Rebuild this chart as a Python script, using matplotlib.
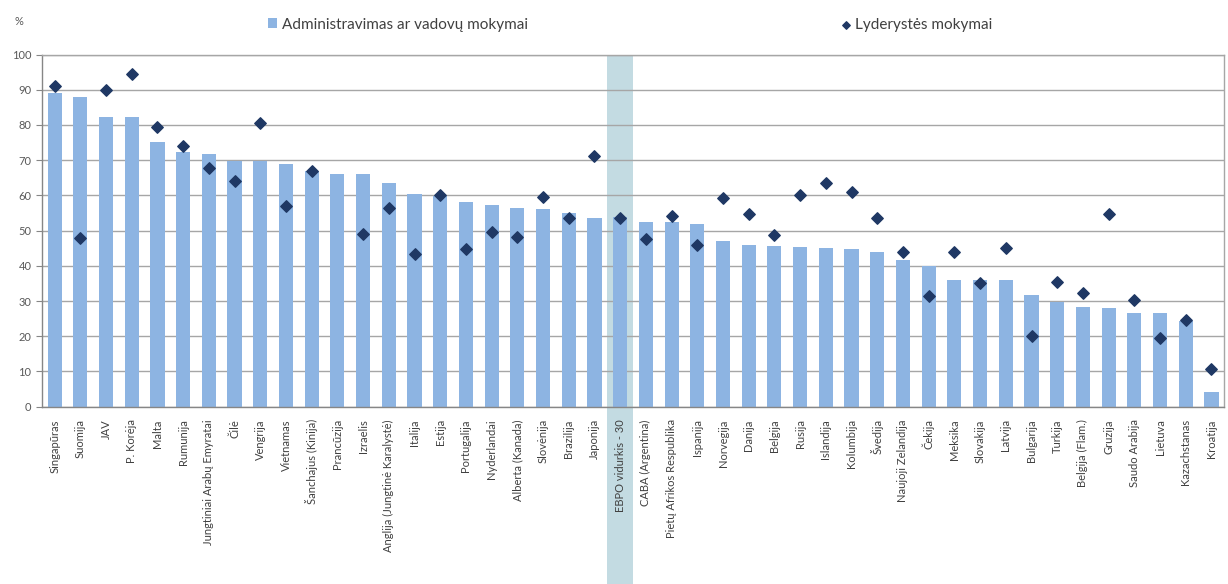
import numpy as np
import matplotlib
matplotlib.use("Agg")
import matplotlib.pyplot as plt
from matplotlib.patches import Rectangle
import matplotlib.transforms as mtransforms

plt.rcParams['font.family'] = ['Lato', 'DejaVu Sans']

countries = [
    "Singapūras", "Suomija", "JAV", "P. Korėja", "Malta", "Rumunija",
    "Jungtiniai Arabų Emyratai", "Čilė", "Vengrija", "Vietnamas",
    "Šanchajus (Kinija)", "Prancūzija", "Izraelis", "Anglija (Jungtinė Karalystė)",
    "Italija", "Estija", "Portugalija", "Nyderlandai", "Alberta (Kanada)",
    "Slovėnija", "Brazilija", "Japonija", "EBPO vidurkis - 30", "CABA (Argentina)",
    "Pietų Afrikos Respublika", "Ispanija", "Norvegija", "Danija", "Belgija",
    "Rusija", "Islandija", "Kolumbija", "Švedija", "Naujoji Zelandija", "Čekija",
    "Meksika", "Slovakija", "Latvija", "Bulgarija", "Turkija", "Belgija (Flam.)",
    "Gruzija", "Saudo Arabija", "Lietuva", "Kazachstanas", "Kroatija",
]

admin = [
    89.0, 87.9, 82.2, 82.2, 75.1, 72.4, 71.8, 69.9, 69.9, 68.8,
    67.0, 66.0, 66.0, 63.5, 60.3, 59.8, 58.2, 57.3, 56.4, 56.1,
    55.1, 53.6, 53.8, 52.4, 52.4, 51.9, 47.1, 45.9, 45.5, 45.3,
    45.0, 44.7, 43.9, 41.7, 40.0, 36.0, 36.0, 35.9, 31.7, 29.8,
    28.4, 28.1, 26.7, 26.7, 24.4, 4.3,
]

leader = [
    91.1, 47.8, 90.0, 94.5, 79.3, 74.0, 67.9, 64.2, 80.5, 56.9,
    66.8, np.nan, 49.0, 56.4, 43.4, 60.0, 44.8, 49.5, 48.1, 59.5,
    53.6, 71.3, 53.6, 47.6, 54.2, 45.9, 59.4, 54.7, 48.8, 60.1,
    63.5, 61.1, 53.5, 44.0, 31.5, 43.9, 35.0, 45.0, 20.1, 35.5,
    32.2, 54.7, 30.3, 19.4, 24.6, 10.6,
]

highlight = "EBPO vidurkis - 30"

x = np.arange(len(countries))

fig = plt.figure(figsize=(12.28, 5.84), dpi=100)
ax = fig.add_axes([0.034, 0.3036, 0.963, 0.603])

# highlighted column for the OECD average
hi = countries.index(highlight)
trans = mtransforms.blended_transform_factory(ax.transData, ax.transAxes)
ax.add_patch(Rectangle((hi - 0.5, -0.51), 1.0, 1.51, transform=trans,
                       facecolor='#c3dbe2', edgecolor='none', zorder=0, clip_on=False))

bars = ax.bar(x, admin, width=0.55, color='#8db4e2', zorder=2,
              label='Administravimas ar vadovų mokymai')
pts = ax.scatter(x, leader, marker='D', s=34, color='#1f3864', zorder=3,
                 label='Lyderystės mokymai')

ax.set_xlim(-0.5, len(countries) - 0.5)
ax.set_ylim(0, 100)
ax.set_yticks(range(0, 101, 10))
ax.yaxis.grid(True, color='#a6a6a6', linewidth=1.0, zorder=1)
ax.set_axisbelow(True)

ax.set_xticks(x)
ax.set_xticklabels(countries, rotation=90, fontsize=8, color='#404040')
ax.tick_params(axis='x', length=0, pad=9)
ax.tick_params(axis='y', labelsize=8, colors='#595959', length=4, color='#868686')

for s in ax.spines.values():
    s.set_color('#a6a6a6')
    s.set_linewidth(1.0)
ax.spines['left'].set_color('#868686')
ax.spines['bottom'].set_color('#868686')

fig.text(0.012, 0.963, '%', fontsize=8, color='#595959', va='center')

fig.legend([bars, pts], ['Administravimas ar vadovų mokymai', 'Lyderystės mokymai'],
           loc='center', bbox_to_anchor=(0.513, 0.958), ncol=2, frameon=False,
           fontsize=11, columnspacing=20.5, handletextpad=0.3,
           handlelength=0.6, handleheight=0.6, markerscale=0.65,
           labelcolor='#404040')

fig.savefig('out.png', dpi=100)
